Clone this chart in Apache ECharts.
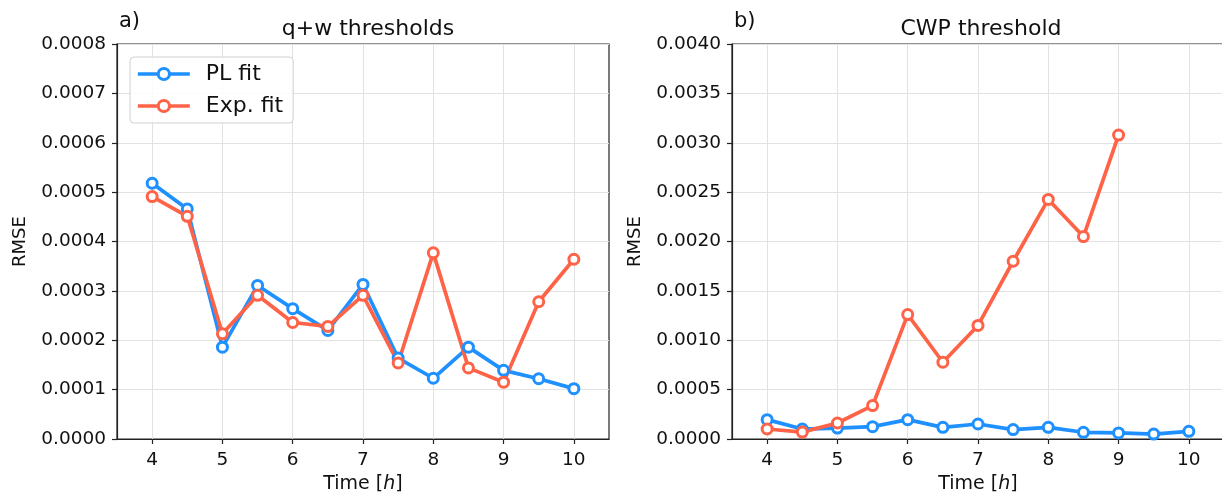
<!DOCTYPE html>
<html>
<head>
<meta charset="utf-8">
<script src="https://cdn.jsdelivr.net/npm/echarts@6/dist/echarts.min.js"></script>
<style>
  html, body { margin: 0; padding: 0; background: #fff; }
  #chart { width: 1222px; height: 494px; }
</style>
</head>
<body>
<div id="chart"></div>
<script>
// time axis (hours)
var times = [4, 4.5, 5, 5.5, 6, 6.5, 7, 7.5, 8, 8.5, 9, 9.5, 10];
var xTicks = [4, 5, 6, 7, 8, 9, 10];

// a) q+w thresholds
var qwPL  = [0.000518, 0.000466, 0.000186, 0.000311, 0.000264, 0.000220, 0.000313, 0.000164, 0.000123, 0.000186, 0.000139, 0.000122, 0.000102];
var qwExp = [0.000491, 0.000451, 0.000213, 0.000291, 0.000236, 0.000228, 0.000291, 0.000154, 0.000377, 0.000144, 0.000115, 0.000278, 0.000364];

// b) CWP threshold
var cwpPL  = [0.000196, 0.000101, 0.000111, 0.000125, 0.000196, 0.000118, 0.000152, 0.000095, 0.000118, 0.000068, 0.000062, 0.000050, 0.000078];
var cwpExp = [0.000101, 0.000070, 0.000162, 0.000338, 0.001260, 0.000777, 0.001150, 0.001800, 0.002426, 0.002050, 0.003078];

var blue = '#1E90FF';
var red = '#FF6347';
var font = 'DejaVu Sans';

function pairs(xs, ys) {
  return ys.map(function (v, i) { return [xs[i], v]; });
}

function lineSeries(name, color, data, idx) {
  return {
    name: name,
    type: 'line',
    xAxisIndex: idx,
    yAxisIndex: idx,
    data: data,
    symbol: 'circle',
    symbolSize: 10,
    lineStyle: { color: color, width: 3.7 },
    itemStyle: { color: '#fff', borderColor: color, borderWidth: 3 },
    emphasis: { disabled: true },
    animation: false
  };
}

function xAxis(idx) {
  return {
    type: 'value',
    gridIndex: idx,
    min: 3.5,
    max: 10.5,
    name: 'Time [{i|h}]',
    nameLocation: 'middle',
    nameGap: 35,
    nameTextStyle: {
      fontFamily: font, fontSize: 19, color: '#111',
      rich: { i: { fontStyle: 'italic', fontFamily: font, fontSize: 19, color: '#111' } }
    },
    axisLine: { show: true, onZero: false, lineStyle: { color: '#222', width: 1.2 } },
    axisTick: { show: true, length: 5, customValues: xTicks, lineStyle: { color: '#222', width: 1.2 } },
    axisLabel: { customValues: xTicks, fontFamily: font, fontSize: 18.5, color: '#111', margin: 12 },
    splitLine: { show: true, lineStyle: { color: '#e2e2e2', width: 1 } }
  };
}

function yAxis(idx, max, step) {
  return {
    type: 'value',
    gridIndex: idx,
    min: 0,
    max: max,
    interval: step,
    name: 'RMSE',
    nameLocation: 'middle',
    nameGap: 88,
    nameTextStyle: { fontFamily: font, fontSize: 18, color: '#111' },
    axisLine: { show: true, lineStyle: { color: '#222', width: 1.2 } },
    axisTick: { show: true, length: 5, lineStyle: { color: '#222', width: 1.2 } },
    axisLabel: {
      fontFamily: font, fontSize: 18.5, color: '#111', margin: 11,
      formatter: function (v) { return v.toFixed(4); }
    },
    splitLine: { show: true, lineStyle: { color: '#e2e2e2', width: 1 } }
  };
}

var chart = echarts.init(document.getElementById('chart'), null, { renderer: 'canvas' });
chart.setOption({
  animation: false,
  backgroundColor: '#fff',
  title: [
    { text: 'q+w thresholds', left: 363, top: 13, textAlign: 'center',
      textStyle: { fontFamily: font, fontSize: 22, fontWeight: 'normal', color: '#111' } },
    { text: 'CWP threshold', left: 976, top: 13, textAlign: 'center',
      textStyle: { fontFamily: font, fontSize: 22, fontWeight: 'normal', color: '#111' } },
    { text: 'a)', left: 114, top: 6,
      textStyle: { fontFamily: font, fontSize: 21, fontWeight: 'normal', color: '#111' } },
    { text: 'b)', left: 729, top: 6,
      textStyle: { fontFamily: font, fontSize: 21, fontWeight: 'normal', color: '#111' } }
  ],
  legend: {
    left: 130,
    top: 57,
    orient: 'vertical',
    data: ['PL fit', 'Exp. fit'],
    selectedMode: false,
    itemWidth: 52,
    itemHeight: 14,
    itemGap: 10,
    padding: [6, 10, 6, 6],
    backgroundColor: 'rgba(255,255,255,0.85)',
    borderColor: '#d0d0d0',
    borderWidth: 1,
    borderRadius: 4,
    lineStyle: { width: 3.7 },
    itemStyle: { borderWidth: 3 },
    textStyle: { fontFamily: font, fontSize: 22, color: '#111', padding: [0, 0, 0, 11] }
  },
  grid: [
    { left: 117, top: 44, width: 492, height: 395, outerBoundsMode: 'none', containLabel: false,
      show: true, borderColor: '#222', borderWidth: 1.2, backgroundColor: 'transparent' },
    { left: 732, top: 44, width: 492, height: 395, outerBoundsMode: 'none', containLabel: false,
      show: true, borderColor: '#222', borderWidth: 1.2, backgroundColor: 'transparent' }
  ],
  xAxis: [xAxis(0), xAxis(1)],
  yAxis: [yAxis(0, 0.0008, 0.0001), yAxis(1, 0.004, 0.0005)],
  series: [
    lineSeries('PL fit', blue, pairs(times, qwPL), 0),
    lineSeries('Exp. fit', red, pairs(times, qwExp), 0),
    lineSeries('PL fit', blue, pairs(times, cwpPL), 1),
    lineSeries('Exp. fit', red, pairs(times, cwpExp), 1)
  ]
});
</script>
</body>
</html>
